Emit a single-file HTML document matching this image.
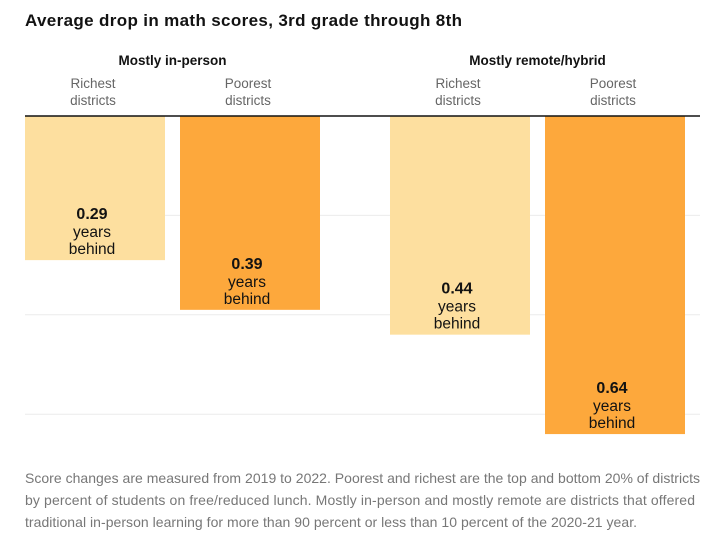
<!DOCTYPE html>
<html><head><meta charset="utf-8"><style>
body{margin:0;background:#fff;width:721px;height:543px;overflow:hidden;font-family:"Liberation Sans",Arial,sans-serif}
</style></head><body>
<svg width="721" height="543" xmlns="http://www.w3.org/2000/svg">
<text x="25" y="26" font-size="17" font-weight="bold" fill="#121212" textLength="437">Average drop in math scores, 3rd grade through 8th</text>
<g id="grid"></g>
<g id="bars"></g>
<g id="labels"></g>
<g font-size="14" fill="#777">
<text x="25" y="483" textLength="675">Score changes are measured from 2019 to 2022. Poorest and richest are the top and bottom 20% of districts</text>
<text x="25" y="505" textLength="670">by percent of students on free/reduced lunch. Mostly in-person and mostly remote are districts that offered</text>
<text x="25" y="527" textLength="612">traditional in-person learning for more than 90 percent or less than 10 percent of the 2020-21 year.</text>
</g>
</svg>
<script>
const groups = ["Mostly in-person","Mostly remote/hybrid"];
const categories = ["Richest districts","Poorest districts","Richest districts","Poorest districts"];
const values = [0.29,0.39,0.44,0.64];
const gridTicks = [0.2,0.4,0.6];
const NS="http://www.w3.org/2000/svg";
const base=116, k=497;
const y=v=>base+v*k;
const barX=[25,180,390,545], barW=140;
const colors=["#fddf9f","#fda83c","#fddf9f","#fda83c"];
function mk(t,a,p){const e=document.createElementNS(NS,t);for(const n in a)e.setAttribute(n,a[n]);p.appendChild(e);return e;}
const grid=document.getElementById('grid'),bars=document.getElementById('bars'),labels=document.getElementById('labels');
gridTicks.forEach(t=>{const l=mk('line',{x1:25,x2:700,y1:y(t),y2:y(t),stroke:'#ebebeb','stroke-width':1},grid);

});
values.forEach((v,i)=>{
const r=mk('rect',{x:barX[i],y:base,width:barW,height:y(v)-base,fill:colors[i]},bars);


const cx=barX[i]+barW/2-3, b=y(v);
const g=mk('g',{'text-anchor':'middle',fill:'#121212','font-size':'15.5'},labels);


mk('text',{x:cx,y:b-41,'font-weight':'bold','font-size':'16'},g).textContent=v.toFixed(2);
mk('text',{x:cx,y:b-23},g).textContent='years';
mk('text',{x:cx,y:b-6},g).textContent='behind';
const parts=categories[i].split(' ');
const c=mk('g',{'text-anchor':'middle',fill:'#666','font-size':'13.5'},labels);


mk('text',{x:barX[i]+barW/2-2,y:88},c).textContent=parts[0];
mk('text',{x:barX[i]+barW/2-2,y:105},c).textContent=parts[1];
});
groups.forEach((g,i)=>{const t=mk('text',{x:(barX[i*2]+barX[i*2+1]+barW)/2,y:65,'text-anchor':'middle','font-size':'13.5','font-weight':'bold',fill:'#121212'},labels);
t.textContent=g;

});
const bl=mk('line',{x1:25,x2:700,y1:base,y2:base,stroke:'#121212','stroke-width':1.5},labels);


</script>
</body></html>
